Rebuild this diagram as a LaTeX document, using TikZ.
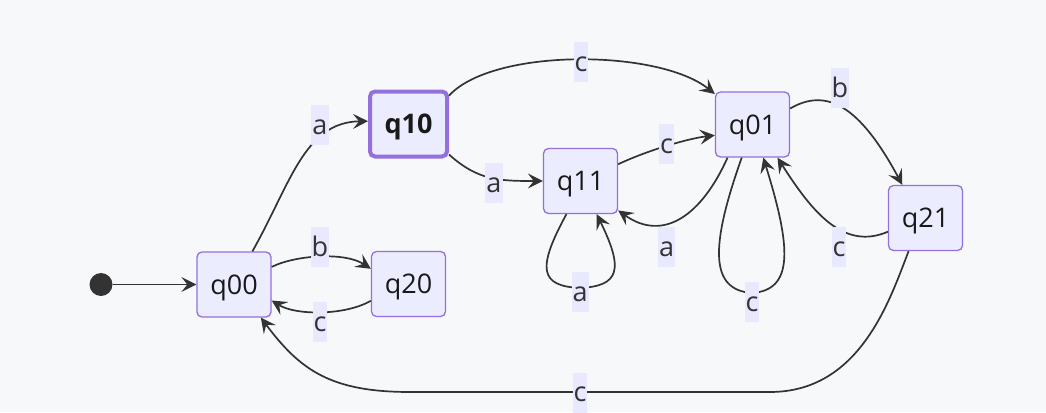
\documentclass[tikz,border=0pt]{standalone}
\usepackage{fontspec}
\setmainfont{Open Sans}
\usepackage{tikz}
\usetikzlibrary{arrows.meta}
\definecolor{bgc}{HTML}{F7F8FA}
\definecolor{nodefill}{HTML}{ECECFF}
\definecolor{nodeline}{HTML}{9370DB}
\definecolor{lblfill}{HTML}{E8E8FF}
\definecolor{edgec}{HTML}{333333}
\newcommand{\fsz}{\fontsize{27}{32}\selectfont}

\begin{document}
\begin{tikzpicture}[x=1pt,y=-1pt,
  state/.style={draw=nodeline,fill=nodefill,line width=1.3pt,rounded corners=5pt,
    minimum width=74pt,minimum height=65pt,inner sep=0pt,text height=19pt,text depth=0pt,
    font=\fsz,text=black!90},
  final/.style={state,line width=4pt,minimum width=77pt,font=\fsz\bfseries},
  lbl/.style={fill=lblfill,inner xsep=1pt,inner ysep=0pt,minimum height=40pt,
    text height=20pt,text depth=2pt,font=\fsz,text=edgec},
  tr/.style={draw=edgec,line width=1.7pt,-{Stealth[length=15pt,width=15pt,inset=6pt]}},
  dot/.style={circle,fill=edgec,inner sep=0pt,minimum size=23pt}]
\useasboundingbox (0,0) rectangle (1046,412);
\fill[bgc] (0,0) rectangle (1046,412);

\node[dot] (s) at (101,284.5) {};
\node[state] (q00) at (234,284.5) {q00};
\node[final] (q10) at (408.5,124) {q10};
\node[state] (q20) at (408.5,284) {q20};
\node[state] (q11) at (580.5,181) {q11};
\node[state] (q01) at (752.5,124.5) {q01};
\node[state] (q21) at (925.5,218) {q21};

\draw[tr] (s) -- (q00.west);
\draw[tr] (q00.61) .. controls +(38,-67) and +(-64,1) .. (q10.176);
\draw[tr] (q00.25) .. controls +(24,-12) and +(-26,-17) .. (q20.158);
\draw[tr] (q20.204) .. controls +(-26,15) and +(24,15) .. (q00.-23);
\draw[tr] (q10.35) .. controls +(44,-48) and +(-56,-45) .. (q01.141);
\draw[tr] (q10.-37) .. controls +(29,26) and +(-44,0) .. (q11.west);
\draw[tr] (q11.24) .. controls +(32,-15) and +(-25,3) .. (q01.196);
\draw[tr] (q01.-127) .. controls +(-26,58) and +(45,32) .. (q11.-38);
\draw[tr] (q11.-113) .. controls +(-30,55) and +(-40,-2) .. (580,288)
  .. controls +(40,-2) and +(27,55) .. (q11.-64);
\draw[tr] (q01.-108) .. controls +(-32,90) and +(-42,-3) .. (752,293)
  .. controls +(42,-3) and +(28,90) .. (q01.-72);
\draw[tr] (q01.23) .. controls +(36,-21) and +(-43,-80) .. (q21.125);
\draw[tr] (q21.200) .. controls +(-44,19) and +(35,55) .. (q01.-53);
\draw[tr] (q21.-117) .. controls +(-19,49) and +(90,0) .. (770,392) -- (410,392)
  .. controls +(-80,0) and +(39,52) .. (q00.-51);

\node[lbl] (l1) at (320,125) {a};
\node[lbl] (l2) at (320,247) {b};
\node[lbl] (l3) at (320,322) {c};
\node[lbl] (l4) at (581,62) {c};
\node[lbl] (l5) at (494,183) {a};
\node[lbl] (l6) at (666.5,144) {c};
\node[lbl] (l7) at (666.5,247) {a};
\node[lbl] (l8) at (580,292) {a};
\node[lbl] (l9) at (752,302) {c};
\node[lbl] (l10) at (840,88) {b};
\node[lbl] (l11) at (839,247) {c};
\node[lbl] (l12) at (580,392.5) {c};
\end{tikzpicture}
\end{document}
